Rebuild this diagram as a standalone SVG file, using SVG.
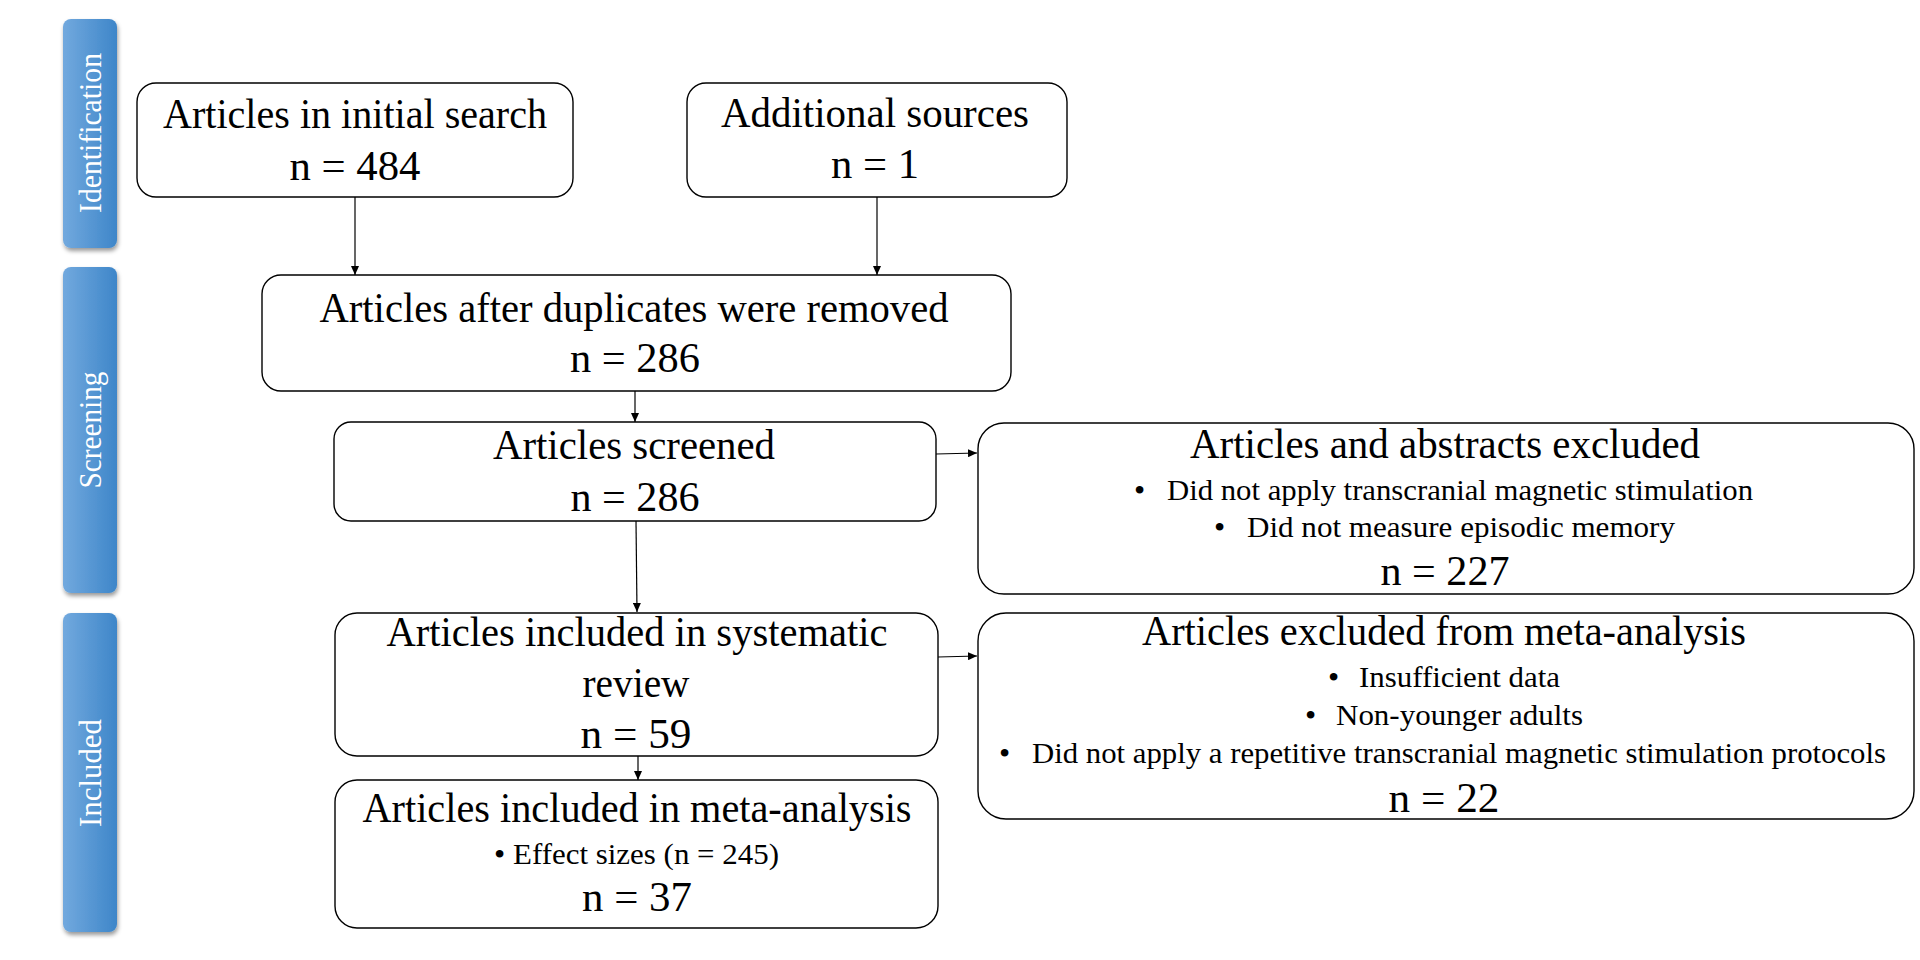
<svg xmlns="http://www.w3.org/2000/svg" width="1920" height="960" viewBox="0 0 1920 960">
<style>
.box{fill:#fff;stroke:#000;stroke-width:1.4}
.t{font-family:"Liberation Serif","Times New Roman",serif;font-size:42px;fill:#000}
.s{font-family:"Liberation Serif","Times New Roman",serif;font-size:29px;fill:#000}
.b{font-family:"Liberation Serif","Times New Roman",serif;font-size:32px;fill:#000}
.c{text-anchor:middle}
.bar{fill:url(#g);filter:url(#sh)}
.bt{font-family:"Liberation Serif","Times New Roman",serif;font-size:31px;fill:#fff;text-anchor:middle}
.ln{stroke:#000;stroke-width:1.2;fill:none;marker-end:url(#ah)}
</style>
<defs>
<linearGradient id="g" x1="0" y1="0" x2="1" y2="0">
<stop offset="0" stop-color="#72a9de"/>
<stop offset="1" stop-color="#3e86c9"/>
</linearGradient>
<filter id="sh" x="-30%" y="-10%" width="160%" height="120%">
<feDropShadow dx="1" dy="3" stdDeviation="2" flood-color="#000" flood-opacity="0.4"/>
</filter>
<marker id="ah" markerUnits="userSpaceOnUse" markerWidth="10" markerHeight="8" refX="9" refY="4" orient="auto">
<path d="M0,0 L9,4 L0,8 Z" fill="#000"/>
</marker>
</defs>

<g id="bar-identification">
<rect class="bar" x="63" y="19" width="54" height="229" rx="8"/>
<text class="bt" transform="translate(101,133) rotate(-90)" textLength="160" lengthAdjust="spacingAndGlyphs">Identification</text>
</g>
<g id="bar-screening">
<rect class="bar" x="63" y="267" width="54" height="326" rx="8"/>
<text class="bt" transform="translate(101,430) rotate(-90)" textLength="117" lengthAdjust="spacingAndGlyphs">Screening</text>
</g>
<g id="bar-included">
<rect class="bar" x="63" y="613" width="54" height="319" rx="8"/>
<text class="bt" transform="translate(101,773) rotate(-90)" textLength="108" lengthAdjust="spacingAndGlyphs">Included</text>
</g>

<g id="connectors">
<line class="ln" x1="355" y1="197" x2="355" y2="275"/>
<line class="ln" x1="877" y1="197" x2="877" y2="275"/>
<line class="ln" x1="635" y1="391" x2="635" y2="422"/>
<line class="ln" x1="636" y1="521" x2="637" y2="612"/>
<line class="ln" x1="936" y1="454" x2="977" y2="453"/>
<line class="ln" x1="638" y1="756" x2="638" y2="780"/>
<line class="ln" x1="938" y1="657" x2="977" y2="656"/>
</g>

<g id="initial-search">
<rect class="box" x="137" y="83" width="436" height="114" rx="19"/>
<text class="t c" x="355" y="128" textLength="384" lengthAdjust="spacingAndGlyphs">Articles in initial search</text>
<text class="t c" x="355" y="180" textLength="131" lengthAdjust="spacingAndGlyphs">n = 484</text>
</g>

<g id="additional-sources">
<rect class="box" x="687" y="83" width="380" height="114" rx="19"/>
<text class="t c" x="875" y="127" textLength="308" lengthAdjust="spacingAndGlyphs">Additional sources</text>
<text class="t c" x="875" y="178" textLength="88" lengthAdjust="spacingAndGlyphs">n = 1</text>
</g>

<g id="duplicates-removed">
<rect class="box" x="262" y="275" width="749" height="116" rx="19"/>
<text class="t c" x="634" y="322" textLength="629" lengthAdjust="spacingAndGlyphs">Articles after duplicates were removed</text>
<text class="t c" x="635" y="372" textLength="130" lengthAdjust="spacingAndGlyphs">n = 286</text>
</g>

<g id="screened">
<rect class="box" x="334" y="422" width="602" height="99" rx="17"/>
<text class="t c" x="634" y="459" textLength="282" lengthAdjust="spacingAndGlyphs">Articles screened</text>
<text class="t c" x="635" y="511" textLength="129" lengthAdjust="spacingAndGlyphs">n = 286</text>
</g>

<g id="abstracts-excluded">
<rect class="box" x="978" y="423" width="936" height="171" rx="26"/>
<text class="t c" x="1445" y="458" textLength="510" lengthAdjust="spacingAndGlyphs">Articles and abstracts excluded</text>
<text class="b" x="1134" y="501">•</text>
<text class="s" x="1167" y="500" textLength="586" lengthAdjust="spacingAndGlyphs">Did not apply transcranial magnetic stimulation</text>
<text class="b" x="1214" y="538">•</text>
<text class="s" x="1247" y="537" textLength="428" lengthAdjust="spacingAndGlyphs">Did not measure episodic memory</text>
<text class="t c" x="1445" y="585" textLength="129" lengthAdjust="spacingAndGlyphs">n = 227</text>
</g>

<g id="systematic-review">
<rect class="box" x="335" y="613" width="603" height="143" rx="22"/>
<text class="t c" x="637" y="646" textLength="501" lengthAdjust="spacingAndGlyphs">Articles included in systematic</text>
<text class="t c" x="636" y="697" textLength="107" lengthAdjust="spacingAndGlyphs">review</text>
<text class="t c" x="636" y="748" textLength="111" lengthAdjust="spacingAndGlyphs">n = 59</text>
</g>

<g id="excluded-meta">
<rect class="box" x="978" y="613" width="936" height="206" rx="28"/>
<text class="t c" x="1444" y="645" textLength="604" lengthAdjust="spacingAndGlyphs">Articles excluded from meta-analysis</text>
<text class="b" x="1328" y="688">•</text>
<text class="s" x="1359" y="687" textLength="201" lengthAdjust="spacingAndGlyphs">Insufficient data</text>
<text class="b" x="1305" y="726">•</text>
<text class="s" x="1336" y="725" textLength="247" lengthAdjust="spacingAndGlyphs">Non-younger adults</text>
<text class="b" x="999" y="764">•</text>
<text class="s" x="1032" y="763" textLength="854" lengthAdjust="spacingAndGlyphs">Did not apply a repetitive transcranial magnetic stimulation protocols</text>
<text class="t c" x="1444" y="812" textLength="111" lengthAdjust="spacingAndGlyphs">n = 22</text>
</g>

<g id="meta-analysis">
<rect class="box" x="335" y="780" width="603" height="148" rx="22"/>
<text class="t c" x="637" y="822" textLength="549" lengthAdjust="spacingAndGlyphs">Articles included in meta-analysis</text>
<text class="b" x="494" y="865">•</text>
<text class="s" x="513" y="864" textLength="266" lengthAdjust="spacingAndGlyphs">Effect sizes (n = 245)</text>
<text class="t c" x="637" y="911" textLength="110" lengthAdjust="spacingAndGlyphs">n = 37</text>
</g>
</svg>
